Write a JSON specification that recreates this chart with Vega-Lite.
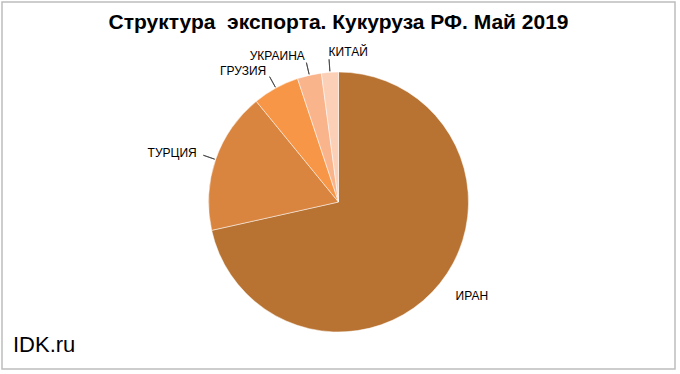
{
  "$schema": "https://vega.github.io/schema/vega-lite/v6.json",
  "width": 673,
  "height": 367,
  "autosize": {"type": "none"},
  "padding": {"left": 2, "top": 2, "right": 5, "bottom": 5},
  "background": "white",
  "config": {
    "view": {"stroke": null},
    "font": "Liberation Sans"
  },
  "title": {
    "text": "Структура\u00a0 экспорта. Кукуруза РФ. Май 2019",
    "font": "Liberation Sans",
    "fontSize": 21,
    "fontWeight": "bold",
    "color": "#000000",
    "anchor": "middle",
    "baseline": "alphabetic",
    "offset": -49
  },
  "data": {
    "values": [
      {"country": "ИРАН", "share": 71.5, "order": 1},
      {"country": "ТУРЦИЯ", "share": 17.6, "order": 2},
      {"country": "ГРУЗИЯ", "share": 5.8, "order": 3},
      {"country": "УКРАИНА", "share": 3.0, "order": 4},
      {"country": "КИТАЙ", "share": 2.1, "order": 5}
    ]
  },
  "layer": [
    {
      "data": {"values": [{"frame": "border"}]},
      "mark": {"type": "rect", "x": 0, "x2": {"expr": "width"}, "y": 0, "y2": {"expr": "height"}, "fill": "transparent", "stroke": "#BDBDBD", "strokeWidth": 1.5},
      "encoding": {}
    },
    {
      "mark": {"type": "arc", "outerRadius": 130, "x": 336.5, "y": 200, "stroke": "#FFFFFF", "strokeWidth": 0.5},
      "encoding": {
        "theta": {"field": "share", "type": "quantitative", "stack": true},
        "order": {"field": "order", "type": "quantitative"},
        "color": {
          "field": "country",
          "type": "nominal",
          "scale": {
            "domain": ["ИРАН", "ТУРЦИЯ", "ГРУЗИЯ", "УКРАИНА", "КИТАЙ"],
            "range": ["#B87333", "#D9843F", "#F79646", "#F9B48C", "#FBD0B6"]
          },
          "legend": null
        }
      }
    },
    {
      "mark": {"type": "arc", "outerRadius": 143, "innerRadius": 131, "padAngle": 1.4, "x": 336.5, "y": 200, "fill": "transparent", "stroke": "#404040", "strokeWidth": 0.8},
      "encoding": {
        "theta": {"field": "share", "type": "quantitative", "stack": true},
        "order": {"field": "order", "type": "quantitative"},
        "strokeOpacity": {"condition": {"test": "datum.country === 'ИРАН'", "value": 0}, "value": 1}
      }
    },
    {
      "mark": {
        "type": "text",
        "radius": 150,
        "x": 336.5,
        "y": 200,
        "fontSize": 12,
        "font": "Liberation Sans",
        "color": "#000000",
        "baseline": "middle",
        "align": {"expr": "datum.country === 'ИРАН' || datum.country === 'КИТАЙ' ? 'left' : 'right'"}
      },
      "encoding": {
        "theta": {"field": "share", "type": "quantitative", "stack": true},
        "order": {"field": "order", "type": "quantitative"},
        "text": {"field": "country", "type": "nominal"}
      }
    },
    {
      "data": {"values": [{"label": "IDK.ru"}]},
      "mark": {"type": "text", "x": 11, "y": 343, "align": "left", "baseline": "middle", "fontSize": 22, "font": "Liberation Sans", "color": "#000000"},
      "encoding": {"text": {"field": "label", "type": "nominal"}}
    }
  ]
}
